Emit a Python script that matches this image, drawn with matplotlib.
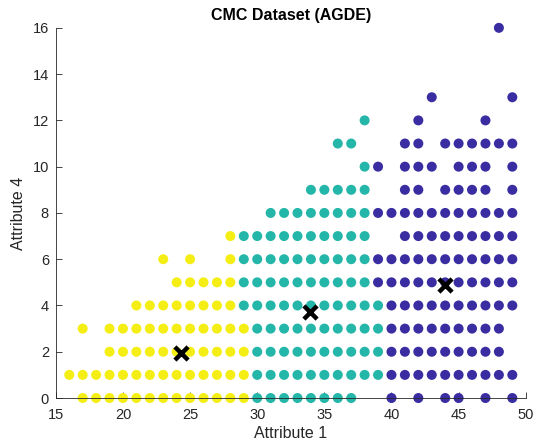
import numpy as np
import matplotlib.pyplot as plt

plt.rcParams['font.family'] = ['Liberation Sans', 'DejaVu Sans']

# points: for each Attribute 4 value, the Attribute 1 values
yellow_rows = {
    0: [17, 18, 19, 20, 21, 22, 23, 24, 25, 26, 27, 28, 29],
    1: [16, 17, 18, 19, 20, 21, 22, 23, 24, 25, 26, 27, 28, 29],
    2: [19, 20, 21, 22, 23, 24, 25, 26, 27, 28, 29],
    3: [17, 19, 20, 21, 22, 23, 24, 25, 26, 27, 28, 29],
    4: [21, 22, 23, 24, 25, 26, 27, 28],
    5: [24, 25, 26, 27, 28],
    6: [23, 25, 28],
    7: [28],
}
teal_rows = {
    0: [30, 31, 32, 33, 34, 35, 36, 37],
    1: [30, 31, 32, 33, 34, 35, 36, 37, 38, 39],
    2: [30, 31, 32, 33, 34, 35, 36, 37, 38, 39],
    3: [30, 31, 32, 33, 34, 35, 36, 37, 38, 39],
    4: [29, 30, 31, 32, 33, 34, 35, 36, 37, 38, 39],
    5: [29, 30, 31, 32, 33, 34, 35, 36, 37, 38],
    6: [29, 30, 31, 32, 33, 34, 35, 36, 37, 38],
    7: [29, 30, 31, 32, 33, 34, 35, 36, 37, 38],
    8: [31, 32, 33, 34, 35, 36, 37, 38],
    9: [34, 35, 36, 37, 38],
    10: [38],
    11: [36, 37],
    12: [38],
}
navy_rows = {
    0: [40, 42, 44, 45, 47, 49],
    1: [40, 41, 42, 43, 44, 45, 46, 47, 48, 49],
    2: [40, 41, 42, 43, 44, 45, 46, 47, 48],
    3: [40, 41, 42, 43, 44, 45, 46, 47, 48],
    4: [40, 41, 42, 43, 44, 45, 46, 47, 48, 49],
    5: [39, 40, 41, 42, 43, 44, 45, 46, 47, 48, 49],
    6: [39, 40, 41, 42, 43, 44, 45, 46, 47, 48, 49],
    7: [41, 42, 43, 44, 45, 46, 47, 48, 49],
    8: [39, 40, 41, 42, 43, 44, 45, 46, 47, 48, 49],
    9: [41, 42, 44, 45, 46, 47, 49],
    10: [39, 41, 42, 43, 45, 46, 47, 49],
    11: [41, 42, 44, 45, 46, 47, 48, 49],
    12: [42, 47],
    13: [43, 49],
    16: [48],
}

centroid_x = [24.3, 33.9, 44.0]
centroid_y = [1.95, 3.72, 4.9]

colors = ['#F4EE14', '#24B7A9', '#3A2DA2']


def rows_to_xy(rows):
    xs, ys = [], []
    for y, xlist in rows.items():
        for x in xlist:
            xs.append(x)
            ys.append(y)
    return np.array(xs), np.array(ys)


fig = plt.figure(figsize=(5.42, 4.42), dpi=100)
ax = fig.add_axes([0.103, 0.0995, 0.867, 0.8375])

for rows, c in zip([yellow_rows, teal_rows, navy_rows], colors):
    x, y = rows_to_xy(rows)
    ax.scatter(x, y, s=52, c=c, edgecolors='none', zorder=2, clip_on=False)

ax.scatter(centroid_x, centroid_y, marker='x', s=90, c='black', linewidths=3.2, zorder=3)

ax.set_xlim(15, 50)
ax.set_ylim(0, 16)
ax.set_xticks(range(15, 51, 5))
ax.set_yticks(range(0, 17, 2))

for s in ['top', 'right']:
    ax.spines[s].set_visible(False)
for s in ['left', 'bottom']:
    ax.spines[s].set_color('#262626')
    ax.spines[s].set_linewidth(0.6)
ax.tick_params(direction='in', length=4, width=0.6, colors='#262626', labelsize=10.5, labelcolor='#262626')
ax.tick_params(axis='x', pad=7)
ax.tick_params(axis='y', pad=5)

ax.set_xlabel('Attribute 1', fontsize=11.5, color='#262626', labelpad=3)
ax.set_ylabel('Attribute 4', fontsize=11.5, color='#262626', labelpad=5)
ax.set_title('CMC Dataset (AGDE)', fontsize=11.5, fontweight='bold', pad=6)

fig.savefig('out.png', dpi=100)
